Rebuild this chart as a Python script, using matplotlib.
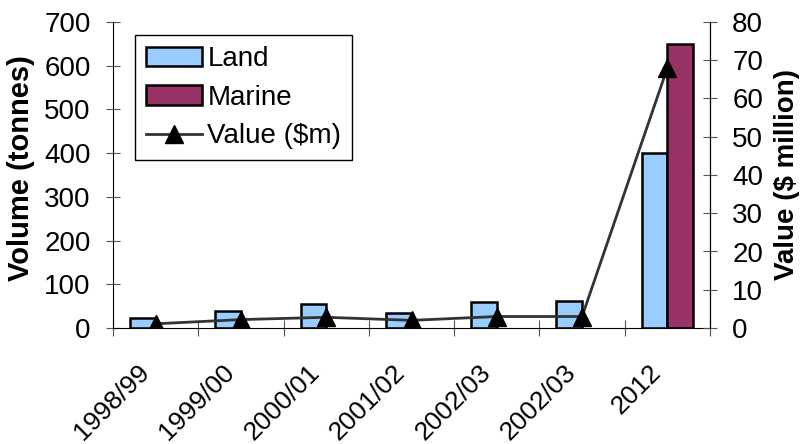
import numpy as np
import matplotlib.pyplot as plt
import matplotlib.transforms as mtransforms
from matplotlib.patches import Patch

plt.rcParams['font.family'] = ['Liberation Sans', 'DejaVu Sans']

# Data
years = ['1998/99', '1999/00', '2000/01', '2001/02', '2002/03', '2002/03', '2012']
land = [22, 40, 54, 35, 60, 61, 400]        # tonnes
marine = [0, 0, 0, 0, 0, 0, 650]            # tonnes
value = [1.1, 2.2, 2.8, 2.0, 3.0, 3.0, 68]  # $ million

fs = 20
land_col = '#99CCFF'
marine_col = '#993366'

fig = plt.figure(figsize=(8.01, 4.44), dpi=100)
ax = fig.add_axes([113 / 801, 1 - 328 / 444, (710 - 113) / 801, (328 - 22) / 444])
ax2 = ax.twinx()

x = np.arange(len(years))
w = 0.3
ax.bar(x - w / 2, land, w, color=land_col, edgecolor='black', linewidth=1.8)
b2 = ax.bar(x + w / 2, marine, w, color=marine_col, edgecolor='black', linewidth=1.8)
# empty bars are not drawn as flat lines
for r in b2.patches:
    if r.get_height() == 0:
        r.set_visible(False)
ln, = ax2.plot(x, value, color='#333333', linewidth=2, marker='^', markersize=13,
               markerfacecolor='black', markeredgecolor='black', label='Value ($m)')

ax.set_xlim(-0.5, len(years) - 0.5)
ax.set_ylim(0, 700)
ax2.set_ylim(0, 80)
ax.set_yticks(range(0, 701, 100))
ax2.set_yticks(range(0, 81, 10))

# ticks between categories, labels at centres
ax.set_xticks(np.arange(-0.5, len(years), 1))
ax.set_xticklabels([])
ax.set_xticks(x, minor=True)
ax.set_xticklabels(years, minor=True, rotation=45, ha='right', va='center',
                   rotation_mode='anchor', fontsize=19)
ax.tick_params(axis='x', which='minor', length=0, pad=29)
ax.tick_params(axis='x', which='major', direction='inout', length=12, color='#555555')
shift = mtransforms.ScaledTranslation(-10 / 100, 0, fig.dpi_scale_trans)
for lab in ax.get_xticklabels(minor=True):
    lab.set_transform(lab.get_transform() + shift)

ax.tick_params(axis='y', direction='inout', length=10, labelsize=fs, color='#555555', pad=11)
ax2.tick_params(axis='y', direction='inout', length=10, labelsize=fs, color='#555555', pad=11)

for a in (ax, ax2):
    a.spines['top'].set_visible(False)
ax2.spines['left'].set_visible(False)
ax2.spines['bottom'].set_visible(False)

ax.set_ylabel('Volume (tonnes)', fontsize=21, fontweight='bold')
ax2.set_ylabel('Value ($ million)', fontsize=20, fontweight='bold')
ax.yaxis.set_label_coords(-0.131, 0.524)
ax2.yaxis.set_label_coords(1.107, 0.5)

handles = [Patch(facecolor=land_col, edgecolor='black', linewidth=1.8, label='Land'),
           Patch(facecolor=marine_col, edgecolor='black', linewidth=1.8, label='Marine'),
           ln]
leg = ax2.legend(handles=handles, loc='upper left', bbox_to_anchor=(0.037, 0.957),
                 borderaxespad=0, fontsize=fs, frameon=True, fancybox=False,
                 edgecolor='black', framealpha=1, handlelength=2.0, handletextpad=0.2,
                 labelspacing=0.45, borderpad=0.4)
leg.get_frame().set_linewidth(1.0)

fig.savefig('out.png', dpi=100)
